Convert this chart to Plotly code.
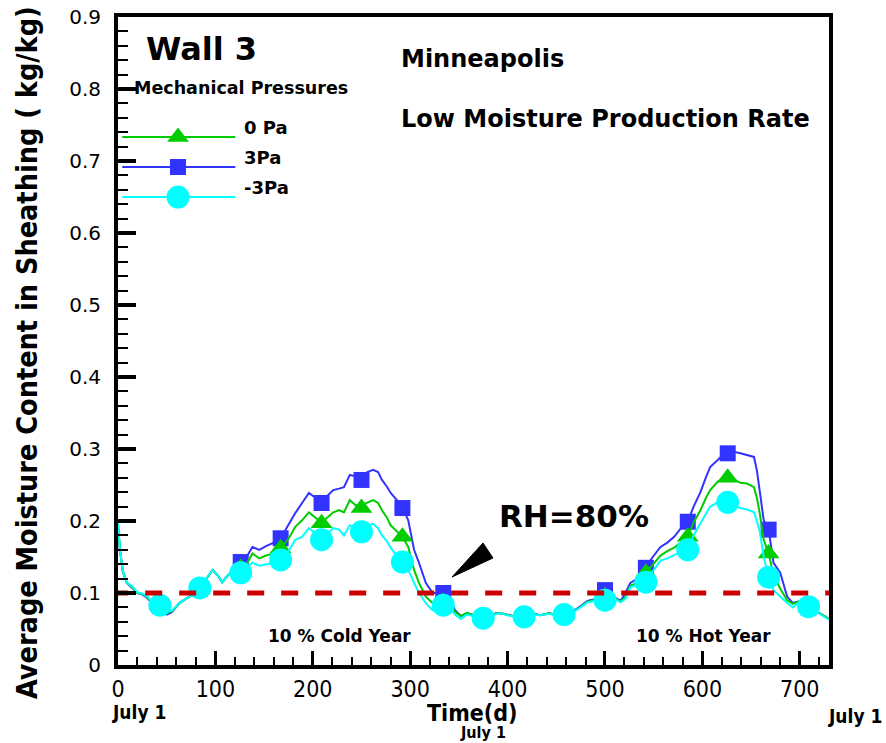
import plotly.graph_objects as go

# ---------------- data ----------------
days = [0, 2, 5, 9, 14, 20, 25, 30, 35, 43, 50, 55, 63, 70, 77, 84, 90, 97, 102, 107,
        113, 119, 126, 132, 138, 145, 152, 160, 167, 175, 182, 189, 196, 203, 209, 215,
        221, 227, 232, 238, 244, 250, 256, 262, 267, 271, 276, 280, 286, 292, 298, 304,
        309, 316, 323, 328, 334, 340, 346, 352, 358, 364, 370, 375, 382, 388, 393, 400,
        406, 411, 416, 422, 428, 433, 437, 443, 449, 454, 458, 464, 470, 475, 482, 488,
        494, 500, 506, 511, 516, 521, 526, 531, 537, 542, 549, 557, 564, 571, 578, 585,
        591, 598, 604, 608, 616, 621, 626, 632, 639, 646, 653, 656, 659, 663, 668, 673,
        680, 687, 693, 698, 704, 709, 715, 720, 725, 730]

mc_3pa = [0.195, 0.16, 0.13, 0.114, 0.108, 0.100, 0.098, 0.093, 0.086, 0.081, 0.070, 0.073,
          0.086, 0.092, 0.098, 0.106, 0.118, 0.132, 0.125, 0.115, 0.125, 0.132, 0.143, 0.150,
          0.164, 0.160, 0.165, 0.170, 0.176, 0.195, 0.211, 0.225, 0.239, 0.232, 0.228, 0.235,
          0.243, 0.245, 0.247, 0.264, 0.262, 0.262, 0.268, 0.271, 0.268, 0.257, 0.248, 0.239,
          0.230, 0.220, 0.201, 0.160, 0.142, 0.114, 0.100, 0.100, 0.100, 0.092, 0.076, 0.068,
          0.072, 0.070, 0.066, 0.065, 0.068, 0.072, 0.072, 0.070, 0.068, 0.066, 0.067, 0.068,
          0.071, 0.069, 0.070, 0.072, 0.069, 0.070, 0.070, 0.074, 0.077, 0.082, 0.089, 0.091,
          0.094, 0.104, 0.100, 0.093, 0.089, 0.100, 0.114, 0.118, 0.128, 0.136, 0.150, 0.164,
          0.170, 0.178, 0.190, 0.199, 0.220, 0.240, 0.262, 0.275, 0.285, 0.292, 0.294, 0.296,
          0.294, 0.291, 0.289, 0.270, 0.243, 0.201, 0.188, 0.142, 0.128, 0.095, 0.086, 0.088,
          0.083, 0.080, 0.076, 0.072, 0.068, 0.064]

mc_0pa = [0.195, 0.16, 0.13, 0.114, 0.109, 0.100, 0.099, 0.094, 0.087, 0.082, 0.072, 0.074,
          0.086, 0.092, 0.098, 0.106, 0.118, 0.132, 0.125, 0.115, 0.125, 0.130, 0.135, 0.140,
          0.155, 0.148, 0.152, 0.155, 0.162, 0.175, 0.192, 0.201, 0.212, 0.205, 0.198, 0.205,
          0.212, 0.215, 0.212, 0.229, 0.222, 0.222, 0.226, 0.229, 0.225, 0.215, 0.205, 0.194,
          0.186, 0.178, 0.164, 0.132, 0.114, 0.095, 0.086, 0.090, 0.088, 0.084, 0.074, 0.068,
          0.072, 0.070, 0.066, 0.065, 0.068, 0.072, 0.072, 0.070, 0.068, 0.066, 0.067, 0.068,
          0.071, 0.069, 0.070, 0.072, 0.069, 0.070, 0.070, 0.074, 0.076, 0.081, 0.088, 0.090,
          0.092, 0.095, 0.093, 0.092, 0.088, 0.095, 0.110, 0.113, 0.120, 0.128, 0.140, 0.152,
          0.158, 0.163, 0.170, 0.178, 0.198, 0.215, 0.233, 0.243, 0.255, 0.258, 0.260, 0.258,
          0.253, 0.252, 0.247, 0.232, 0.210, 0.174, 0.155, 0.125, 0.106, 0.090, 0.085, 0.088,
          0.083, 0.080, 0.076, 0.072, 0.068, 0.064]

mc_m3pa = [0.197, 0.16, 0.13, 0.114, 0.110, 0.101, 0.099, 0.095, 0.088, 0.083, 0.075, 0.075,
           0.086, 0.092, 0.098, 0.107, 0.118, 0.132, 0.125, 0.115, 0.125, 0.130, 0.128, 0.135,
           0.142, 0.138, 0.140, 0.142, 0.146, 0.158, 0.174, 0.178, 0.190, 0.182, 0.176, 0.182,
           0.190, 0.188, 0.180, 0.194, 0.190, 0.188, 0.194, 0.196, 0.190, 0.180, 0.172, 0.163,
           0.152, 0.143, 0.132, 0.114, 0.100, 0.086, 0.076, 0.080, 0.082, 0.080, 0.070, 0.064,
           0.070, 0.068, 0.064, 0.065, 0.067, 0.071, 0.072, 0.069, 0.067, 0.066, 0.067, 0.068,
           0.070, 0.069, 0.070, 0.071, 0.069, 0.070, 0.070, 0.073, 0.076, 0.080, 0.087, 0.089,
           0.090, 0.090, 0.090, 0.091, 0.087, 0.092, 0.108, 0.110, 0.112, 0.115, 0.130, 0.145,
           0.148, 0.153, 0.157, 0.160, 0.180, 0.197, 0.212, 0.220, 0.226, 0.226, 0.226, 0.222,
           0.218, 0.216, 0.212, 0.200, 0.185, 0.150, 0.122, 0.104, 0.095, 0.086, 0.080, 0.086,
           0.082, 0.081, 0.076, 0.071, 0.067, 0.063]

marker_days = [43, 84, 126, 167, 209, 250, 292, 334, 375, 417, 458, 500, 542, 585, 626, 668, 709]
mk_3pa = [0.082, 0.106, 0.143, 0.176, 0.225, 0.257, 0.218, 0.100, 0.065, 0.067, 0.070,
          0.104, 0.135, 0.199, 0.294, 0.188, 0.080]
mk_0pa = [0.083, 0.106, 0.135, 0.162, 0.197, 0.218, 0.178, 0.088, 0.065, 0.067, 0.070,
          0.095, 0.128, 0.178, 0.260, 0.155, 0.080]
mk_m3pa = [0.083, 0.107, 0.128, 0.146, 0.174, 0.185, 0.143, 0.083, 0.065, 0.067, 0.070,
           0.090, 0.115, 0.160, 0.226, 0.122, 0.081]

rh80_level = 0.1
x_ticks = [0, 100, 200, 300, 400, 500, 600, 700]
y_ticks = [0, 0.1, 0.2, 0.3, 0.4, 0.5, 0.6, 0.7, 0.8, 0.9]
y_tick_text = ["0", "0.1", "0.2", "0.3", "0.4", "0.5", "0.6", "0.7", "0.8", "0.9"]

series = [
    ("3Pa", mc_3pa, mk_3pa, "#3333ff", "square", 16),
    ("0 Pa", mc_0pa, mk_0pa, "#00cc00", "triangle-up", 19),
    ("-3Pa", mc_m3pa, mk_m3pa, "#00ffff", "circle", 23),
]

NARROW = "Liberation Sans Narrow, Arial Narrow, DejaVu Sans Condensed, sans-serif"
WIDE = "DejaVu Sans, Arial, sans-serif"

fig = go.Figure()
for name, line_vals, mk_vals, col, sym, sz in series:
    fig.add_trace(go.Scatter(x=days, y=line_vals, mode="lines",
                             line=dict(color=col, width=2), showlegend=False, name=name))
    fig.add_trace(go.Scatter(x=marker_days, y=mk_vals, mode="markers",
                             marker=dict(color=col, symbol=sym, size=sz, line=dict(width=0)),
                             showlegend=False, name=name))

# RH = 80% reference line
fig.add_trace(go.Scatter(x=[-7, 740], y=[rh80_level, rh80_level], mode="lines",
                         line=dict(color="#cc0000", width=5, dash="17px,17px"),
                         showlegend=False, hoverinfo="skip"))

# ---------- manual legend (overlay axes in 0..1 space) ----------
leg_y = {"0 Pa": 0.8148, "3Pa": 0.7685, "-3Pa": 0.7222}
for name, line_vals, mk_vals, col, sym, sz in series:
    yy = leg_y[name]
    fig.add_shape(type="line", xref="paper", yref="paper", x0=0.006, x1=0.165, y0=yy, y1=yy,
                  line=dict(color=col, width=2))
    fig.add_trace(go.Scatter(x=[0.0844], y=[yy], xaxis="x2", yaxis="y2", mode="markers",
                             marker=dict(color=col, symbol=sym, size=sz, line=dict(width=0)),
                             showlegend=False, hoverinfo="skip"))
    fig.add_annotation(x=0.175, y=yy + 0.014, xref="paper", yref="paper", text=name,
                       showarrow=False, xanchor="left", yanchor="middle",
                       font=dict(family=WIDE, size=18, color="black", weight="bold"))

# arrow wedge pointing to the RH line
fig.add_shape(type="path", xref="paper", yref="paper",
              path="M 0.4698 0.1358 L 0.5134 0.1883 L 0.5274 0.1651 Z",
              fillcolor="black", line=dict(color="black", width=1))

def ann(text, x, y, size, family=WIDE, xanchor="center", angle=0):
    fig.add_annotation(x=x, y=y, xref="paper", yref="paper", text=text, showarrow=False,
                       xanchor=xanchor, yanchor="middle", textangle=angle, borderpad=0,
                       font=dict(family=family, size=size, color="black", weight="bold"))

ann("Wall 3", 0.038, 0.95, 32, xanchor="left")
ann("Mechanical Pressures", 0.021, 0.890, 17.5, xanchor="left")
ann("Minneapolis", 0.396, 0.935, 24, xanchor="left")
ann("Low Moisture Production Rate", 0.396, 0.843, 24, xanchor="left")
ann("RH=80%", 0.534, 0.230, 31, xanchor="left")
ann("10 % Cold Year", 0.311, 0.045, 17)
ann("10 % Hot Year", 0.824, 0.045, 17)
ann("Time(d)", 0.498, -0.0735, 23, family=NARROW)
ann("July 1", 0.0295, -0.0725, 19, family=NARROW)
ann("July 1", 0.513, -0.1045, 16, family=NARROW)
ann("July 1", 1.0366, -0.079, 19, family=NARROW)
ann("Average Moisture Content in Sheathing ( kg/kg)", -0.128, 0.483, 28.5, family=NARROW,
    angle=-90)

fig.update_layout(
    width=886, height=743,
    margin=dict(l=118, r=57, t=17, b=78),
    plot_bgcolor="white", paper_bgcolor="white",
    xaxis=dict(range=[0, 730], tickvals=x_ticks, ticks="inside", ticklen=14, tickwidth=3,
               tickcolor="black", showline=True, linewidth=4, linecolor="black", mirror=True,
               showgrid=False, zeroline=False, automargin=False,
               tickfont=dict(family=NARROW, size=23, color="black"),
               minor=dict(ticks="inside", dtick=20, ticklen=8, tickwidth=2, tickcolor="black",
                          showgrid=False)),
    yaxis=dict(range=[0, 0.9], tickvals=y_ticks, ticktext=y_tick_text, ticks="inside",
               ticklen=18, tickwidth=4, tickcolor="black", showline=True, linewidth=4,
               linecolor="black", mirror=True, showgrid=False, zeroline=False,
               automargin=False, ticklabelstandoff=9,
               tickfont=dict(family=WIDE, size=20, color="black"),
               minor=dict(ticks="inside", dtick=0.02, ticklen=10, tickwidth=2,
                          tickcolor="black", showgrid=False)),
    xaxis2=dict(range=[0, 1], overlaying="x", visible=False, anchor="y2", domain=[0, 1],
                automargin=False),
    yaxis2=dict(range=[0, 1], overlaying="y", visible=False, anchor="x2", automargin=False),
    showlegend=False,
)

fig.write_html("out.html")
